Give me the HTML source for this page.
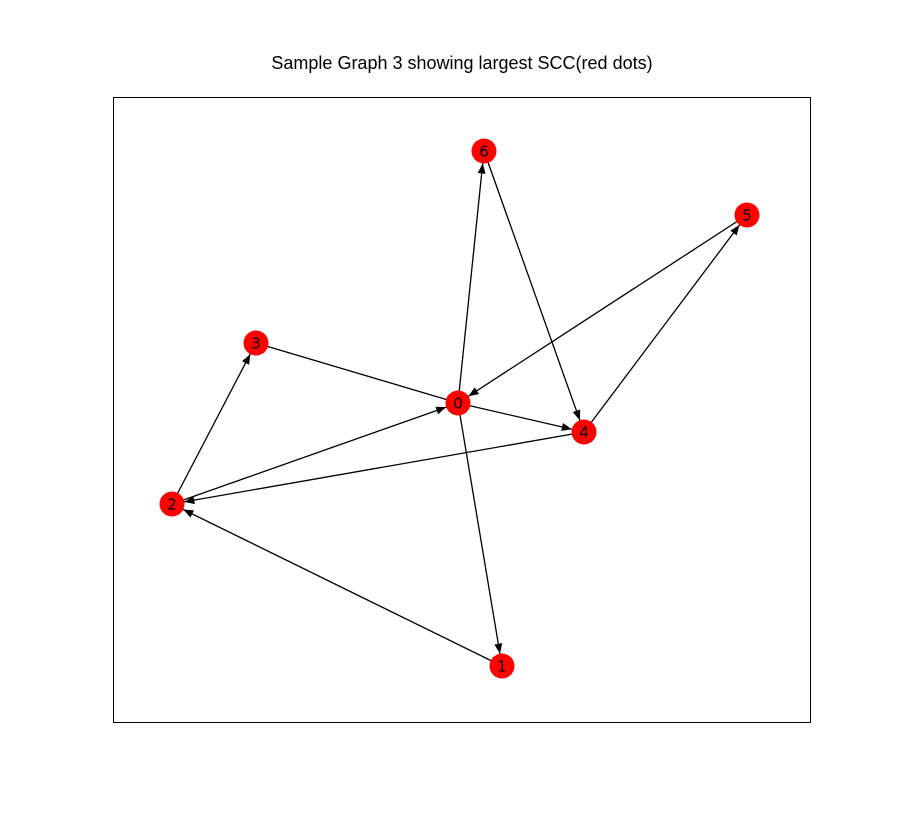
<!DOCTYPE html>
<html><head><style>body{margin:0;background:#fff}</style></head><body>
<svg width="900" height="811" xmlns="http://www.w3.org/2000/svg">
<defs>
<marker id="a" markerUnits="userSpaceOnUse" markerWidth="40" markerHeight="20" refX="22.5" refY="4" orient="auto" overflow="visible">
<path d="M0,0 L10,4 L0,8 Z" fill="#000"/>
</marker>
</defs>
<rect x="0" y="0" width="900" height="811" fill="#fff"/>
<text x="462" y="69" font-family="Liberation Sans, DejaVu Sans, sans-serif" font-size="18" text-anchor="middle">Sample Graph 3 showing largest SCC(red dots)</text>
<rect x="113.5" y="97.5" width="697" height="625" fill="none" stroke="#000" stroke-width="1"/>
<g stroke="#000" stroke-width="1.3" fill="none">
<line x1="458" y1="403" x2="484" y2="151" marker-end="url(#a)"/>
<line x1="484" y1="151" x2="584" y2="432" marker-end="url(#a)"/>
<line x1="747" y1="215" x2="458" y2="403" marker-end="url(#a)"/>
<line x1="584" y1="432" x2="747" y2="215" marker-end="url(#a)"/>
<line x1="256" y1="343" x2="458" y2="403"/>
<line x1="458" y1="403" x2="584" y2="432" marker-end="url(#a)"/>
<line x1="172" y1="504" x2="256" y2="343" marker-end="url(#a)"/>
<line x1="172" y1="504" x2="458" y2="403" marker-end="url(#a)"/>
<line x1="584" y1="432" x2="172" y2="504" marker-end="url(#a)"/>
<line x1="502" y1="666" x2="172" y2="504" marker-end="url(#a)"/>
<line x1="458" y1="403" x2="502" y2="666" marker-end="url(#a)"/>
</g>
<g fill="#ff0000">
<circle cx="458" cy="403" r="12.5"/>
<circle cx="502" cy="666" r="12.5"/>
<circle cx="172" cy="504" r="12.5"/>
<circle cx="256" cy="343" r="12.5"/>
<circle cx="584" cy="432" r="12.5"/>
<circle cx="747" cy="215" r="12.5"/>
<circle cx="484" cy="151" r="12.5"/>
</g>
<g font-family="DejaVu Sans, Liberation Sans, sans-serif" font-size="15" text-anchor="middle" fill="#000">
<text x="458" y="408.5">0</text>
<text x="502" y="671.5">1</text>
<text x="172" y="509.5">2</text>
<text x="256" y="348.5">3</text>
<text x="584" y="437.5">4</text>
<text x="747" y="220.5">5</text>
<text x="484" y="156.5">6</text>
</g>
</svg>
</body></html>
